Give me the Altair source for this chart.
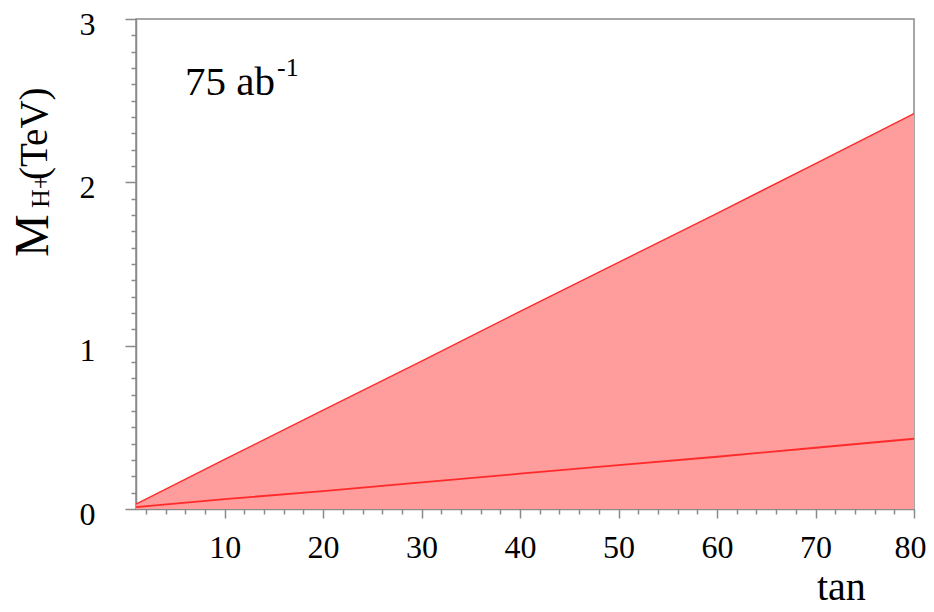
import altair as alt
import pandas as pd

# data
tan_beta = [1, 10, 20, 30, 40, 50, 60, 70, 80]
upper_tev = [0.03, 0.304, 0.605, 0.905, 1.21, 1.51, 1.81, 2.115, 2.42]
lower_tev = [0.012, 0.06, 0.11, 0.163, 0.216, 0.268, 0.32, 0.375, 0.43]

x_ticks = [v for v in range(2, 81, 2)]
y_ticks = [round(i * 0.1, 1) for i in range(0, 31)]

df = pd.DataFrame({"tb": tan_beta, "up": upper_tev, "lo": lower_tev, "zero": [0.0] * len(tan_beta)})

FONT = "Liberation Serif"
AX = "#8a8a8a"

xscale = alt.Scale(domain=[1, 80], nice=False, zero=False)
yscale = alt.Scale(domain=[0, 3], nice=False, zero=True)

xaxis = alt.Axis(
    values=x_ticks, tickCount=200,
    labelExpr="datum.value % 10 === 0 ? toString(datum.value) : ''",
    tickSize={"condition": {"test": "datum.value % 10 === 0", "value": 9}, "value": 5},
    labelAlign={"condition": {"test": "datum.value === 80", "value": "right"}, "value": "center"},
    labelOffset={"condition": {"test": "datum.value === 80", "value": 12}, "value": 0},
    grid=False, title=None, domainColor=AX, tickColor=AX, domainWidth=1.5, tickWidth=1.5,
    labelFont=FONT, labelFontSize=32, labelColor="black", labelPadding=14,
    labelOverlap=False, labelFlush=False,
)
yaxis = alt.Axis(
    values=y_ticks, tickCount=200,
    labelExpr="abs(datum.value - round(datum.value)) < 0.001 ? toString(round(datum.value)) : ''",
    tickSize={"condition": {"test": "abs(datum.value - round(datum.value)) < 0.001", "value": 11}, "value": 5},
    labelOffset=5,
    grid=False, title=None, domainColor=AX, tickColor=AX, domainWidth=1.5, tickWidth=1.5,
    labelFont=FONT, labelFontSize=32, labelColor="black", labelPadding=30,
    labelOverlap=False, labelFlush=False,
)

base = alt.Chart(df)
area = base.mark_area(color="#ff9c9c", opacity=1).encode(
    x=alt.X("tb:Q", scale=xscale, axis=xaxis),
    y=alt.Y("up:Q", scale=yscale, axis=yaxis),
    y2="zero:Q",
)
up_line = base.mark_line(color="#ff2a2a", strokeWidth=1.4).encode(x="tb:Q", y="up:Q")
lo_line = base.mark_line(color="#ff2a2a", strokeWidth=1.8).encode(x="tb:Q", y="lo:Q")


def txt(s, x, y, size, angle=0, align="left"):
    return alt.Chart(pd.DataFrame({"t": [s]})).mark_text(
        font=FONT, fontSize=size, color="black", align=align, baseline="alphabetic", angle=angle
    ).encode(text="t:N", x=alt.value(x), y=alt.value(y))


labels = [
    txt("75 ab", 49, 76, 41),
    txt("-1", 141, 57, 26),
    txt("tan", 681, 581, 40),
    txt("M", -88, 238, 48, angle=270),
    txt("H+", -87, 189, 26, angle=270),
    txt("(TeV)", -89, 161, 39, angle=270),
]

chart = alt.layer(area, up_line, lo_line, *labels).properties(
    width=778, height=490,
    autosize=alt.AutoSizeParams(type="none"),
    padding={"left": 128, "top": 11, "right": 12, "bottom": 95},
).configure_view(stroke=AX, strokeWidth=1.5)

chart.save("out.html", embed_options={"renderer": "svg", "actions": False})
